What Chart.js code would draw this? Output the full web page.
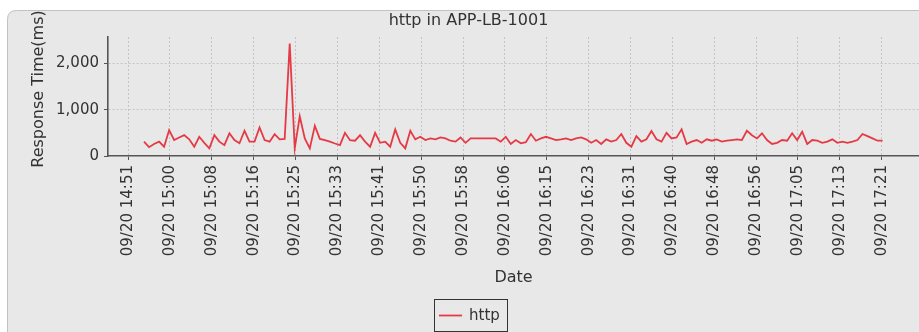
<!DOCTYPE html>
<html>
<head>
<meta charset="utf-8">
<script src="https://cdn.jsdelivr.net/npm/chart.js@4/dist/chart.umd.min.js"></script>
<style>
  html, body { margin: 0; padding: 0; background: #ffffff; }
  #wrap { width: 919px; height: 332px; }
</style>
</head>
<body>
<div id="wrap"><canvas id="chart" width="919" height="332"></canvas></div>
<script>
// ---- data ----------------------------------------------------------
const chartTitle = 'http in APP-LB-1001';
const seriesName = 'http';
const yAxisLabel = 'Response Time(ms)';
const xAxisLabel = 'Date';
const dayLabel = '09/20';

// one sample per minute, first sample at 14:54:50 (seconds since midnight)
const firstSampleSec = 14 * 3600 + 54 * 60 + 50;
const sampleStepSec = 60;

// response time per sample, ms
const responseMs = [
  310, 190, 260, 310, 200, 560, 345, 400, 450, 360,
  200, 415, 285, 165, 450, 310, 235, 490, 345, 275,
  545, 310, 310, 615, 345, 310, 470, 360, 370, 2430,
  165, 860, 380, 165, 650, 370, 345, 310, 270, 235,
  500, 340, 330, 450, 310, 200, 500, 285, 310, 200,
  575, 285, 165, 545, 360, 415, 345, 380, 360, 400,
  380, 330, 310, 400, 285, 380, 380, 380, 380, 380,
  380, 310, 415, 260, 345, 275, 300, 475, 330, 380,
  415, 380, 345, 360, 380, 345, 380, 400, 360, 285,
  345, 260, 360, 310, 345, 475, 285, 200, 430, 310,
  360, 540, 360, 310, 500, 380, 400, 575, 260, 310,
  345, 285, 360, 330, 360, 310, 330, 345, 360,
  345, 545, 450, 380, 490, 345, 260, 285, 345,
  330, 490, 345, 525, 260, 345, 330, 285, 310, 360,
  285, 310, 285, 310, 345, 475, 430, 380, 330,
  330
];

// axis ranges and tick spacing
const xMinSec = 53260;        // 14:47:40
const xMaxSec = 62945;        // 17:29:05
const xTickStepSec = 500;
const yMax = 2570;
const yTickValues = [0, 1000, 2000];

const sampleTimes = responseMs.map((_, i) => firstSampleSec + i * sampleStepSec);
const points = responseMs.map((v, i) => ({ x: sampleTimes[i], y: v }));

// ---- styling -------------------------------------------------------
const FONT = 'DejaVu Sans';
const TEXT = '#333333';
const GRID = '#c4c4c4';
const AXIS = '#555555';
const LINE = '#e53a45';

const pad2 = n => String(n).padStart(2, '0');
const fmtTime = s => dayLabel + ' ' + pad2(Math.floor(s / 3600)) + ':' + pad2(Math.floor((s % 3600) / 60));

// panel background, y-axis caption and framed legend
const decor = {
  id: 'decor',
  beforeDraw(chart) {
    const ctx = chart.ctx;
    ctx.save();
    ctx.fillStyle = '#ffffff';
    ctx.fillRect(0, 0, chart.width, chart.height);
    const x = 7.5, y = 10.5, w = 940, h = 340, r = 9;
    ctx.beginPath();
    ctx.moveTo(x + r, y);
    ctx.lineTo(x + w, y);
    ctx.lineTo(x + w, y + h);
    ctx.lineTo(x, y + h);
    ctx.lineTo(x, y + r);
    ctx.quadraticCurveTo(x, y, x + r, y);
    ctx.closePath();
    ctx.fillStyle = '#e8e8e8';
    ctx.fill();
    ctx.strokeStyle = '#c2c2c2';
    ctx.lineWidth = 1;
    ctx.stroke();
    ctx.restore();
  },
  afterDraw(chart) {
    const ctx = chart.ctx;
    // y-axis caption
    ctx.save();
    ctx.translate(43, 89);
    ctx.rotate(-Math.PI / 2);
    ctx.font = '16px "' + FONT + '"';
    ctx.fillStyle = TEXT;
    ctx.textAlign = 'center';
    ctx.textBaseline = 'alphabetic';
    ctx.fillText(yAxisLabel, 0, 0);
    ctx.restore();

    // legend
    const ds = chart.data.datasets[0];
    ctx.save();
    ctx.strokeStyle = '#333333';
    ctx.lineWidth = 1;
    ctx.strokeRect(434.5, 299.5, 73, 32);
    ctx.strokeStyle = ds.borderColor;
    ctx.lineWidth = ds.borderWidth;
    ctx.beginPath();
    ctx.moveTo(439, 315.5);
    ctx.lineTo(462, 315.5);
    ctx.stroke();
    ctx.font = '15px "' + FONT + '"';
    ctx.fillStyle = TEXT;
    ctx.textAlign = 'left';
    ctx.textBaseline = 'middle';
    ctx.fillText(ds.label, 469, 316);
    ctx.restore();
  }
};

new Chart(document.getElementById('chart'), {
  type: 'line',
  data: {
    datasets: [{
      label: seriesName,
      data: points,
      borderColor: LINE,
      borderWidth: 1.8,
      pointRadius: 0,
      tension: 0,
      fill: false
    }]
  },
  options: {
    responsive: false,
    animation: false,
    events: [],
    devicePixelRatio: 1,
    layout: { padding: { left: 18, right: 0, top: 0, bottom: 36 } },
    plugins: {
      legend: { display: false },
      tooltip: { enabled: false },
      title: {
        display: true,
        text: chartTitle,
        color: TEXT,
        font: { family: FONT, size: 16, weight: 'normal', lineHeight: 1.2 },
        padding: { top: 11.5, bottom: 6.3 }
      }
    },
    scales: {
      x: {
        type: 'linear',
        min: xMinSec,
        max: xMaxSec,
        afterFit(scale) { scale.height = 140; },
        afterBuildTicks(scale) {
          const ticks = [];
          for (let v = Math.ceil(xMinSec / xTickStepSec) * xTickStepSec; v <= xMaxSec; v += xTickStepSec) {
            ticks.push({ value: v });
          }
          scale.ticks = ticks;
        },
        ticks: {
          autoSkip: false,
          minRotation: 90,
          maxRotation: 90,
          padding: 5,
          color: TEXT,
          font: { family: FONT, size: 15 },
          callback: v => fmtTime(v)
        },
        grid: {
          color: GRID,
          lineWidth: 1,
          drawTicks: true,
          tickLength: 4,
          tickColor: AXIS,
          tickWidth: 1
        },
        border: { display: true, color: AXIS, width: 1.6, dash: [2, 2] },
        title: {
          display: true,
          text: xAxisLabel,
          color: TEXT,
          font: { family: FONT, size: 16, lineHeight: 1.2 },
          padding: { top: 0, bottom: 9 }
        }
      },
      y: {
        min: 0,
        max: yMax,
        afterFit(scale) { scale.width = 90; },
        afterBuildTicks(scale) {
          scale.ticks = yTickValues.map(v => ({ value: v }));
        },
        ticks: {
          padding: 5,
          color: TEXT,
          font: { family: FONT, size: 15 },
          callback: v => v.toLocaleString('en-US')
        },
        grid: {
          color: ctx => (ctx.tick && ctx.tick.value === 0) ? 'rgba(0,0,0,0)' : GRID,
          lineWidth: 1,
          drawTicks: true,
          tickLength: 4,
          tickColor: AXIS,
          tickWidth: 1
        },
        border: { display: true, color: AXIS, width: 1.6, dash: [2, 2] }
      }
    }
  },
  plugins: [decor]
});
</script>
</body>
</html>
